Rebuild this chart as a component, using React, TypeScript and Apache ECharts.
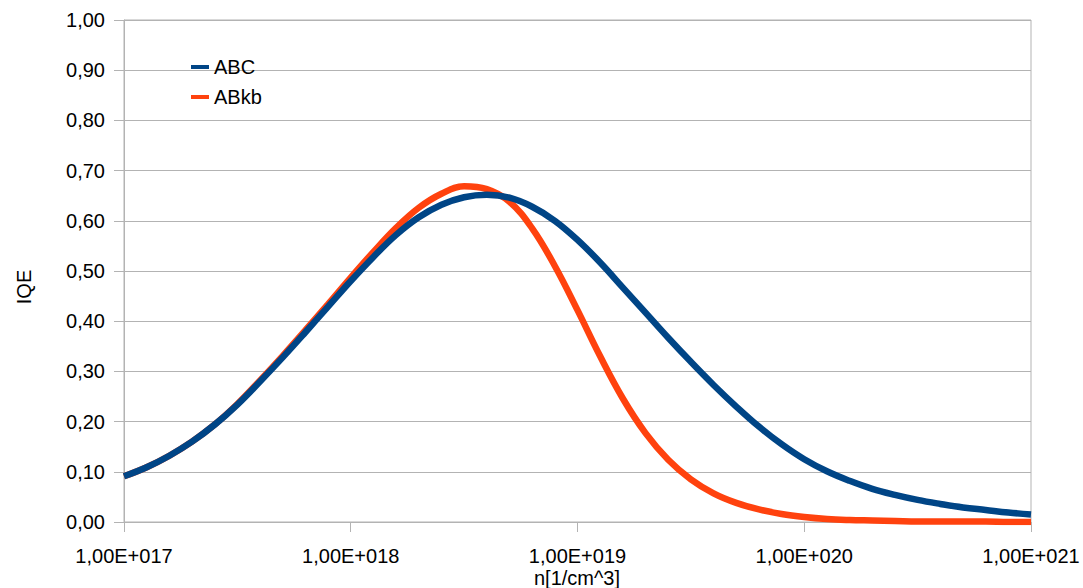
import React, { useEffect, useRef } from "react";
import * as echarts from "echarts";

// log10 of carrier density n [1/cm^3]
const exponents = [
  17.0, 17.1, 17.2, 17.3, 17.4, 17.5, 17.6, 17.7, 17.8, 17.9,
  18.0, 18.1, 18.2, 18.3, 18.4, 18.5, 18.6, 18.7, 18.8, 18.9,
  19.0, 19.1, 19.2, 19.3, 19.4, 19.5, 19.6, 19.7, 19.8, 19.9,
  20.0, 20.1, 20.2, 20.3, 20.4, 20.5, 20.6, 20.7, 20.8, 20.9,
  21.0,
];

const abcValues = [
  0.091, 0.109, 0.132, 0.160, 0.194, 0.234, 0.280, 0.328, 0.378, 0.429,
  0.480, 0.528, 0.572, 0.607, 0.632, 0.647, 0.652, 0.646, 0.628, 0.600,
  0.562, 0.517, 0.467, 0.417, 0.367, 0.319, 0.273, 0.230, 0.190, 0.155,
  0.125, 0.101, 0.082, 0.066, 0.054, 0.044, 0.036, 0.029, 0.024, 0.019,
  0.015,
];

const abkbValues = [
  0.091, 0.109, 0.132, 0.160, 0.194, 0.235, 0.282, 0.331, 0.382, 0.434,
  0.487, 0.538, 0.586, 0.626, 0.654, 0.669, 0.663, 0.638, 0.585, 0.510,
  0.422, 0.330, 0.246, 0.177, 0.124, 0.085, 0.057, 0.038, 0.025, 0.016,
  0.010, 0.006, 0.004, 0.003, 0.002, 0.001, 0.001, 0.001, 0.001, 0.000,
  0.000,
];

const seriesNames = ["ABC", "ABkb"];
const xTitle = "n[1/cm^3]";
const yTitle = "IQE";

const FONT = "'Liberation Sans', Arial, sans-serif";
const GRID_COLOR = "#b3b3b3";

function fmtX(v: number): string {
  const e = Math.round(Math.log10(v));
  const m = v / Math.pow(10, e);
  const es = String(Math.abs(e)).padStart(3, "0");
  return m.toFixed(2).replace(".", ",") + "E" + (e >= 0 ? "+" : "-") + es;
}

export default function App() {
  const ref = useRef<HTMLDivElement>(null);
  useEffect(() => {
    if (!ref.current) return;
    const chart = echarts.init(ref.current, undefined, { renderer: "svg" });
    const xs = exponents.map((e) => Math.pow(10, e));
    chart.setOption({
      animation: false,
      backgroundColor: "#ffffff",
      textStyle: { fontFamily: FONT },
      grid: {
        left: 124,
        right: 52,
        top: 20,
        bottom: 66,
        show: true,
        borderColor: GRID_COLOR,
        borderWidth: 1,
      },
      legend: {
        orient: "vertical",
        left: 191,
        top: 57,
        padding: 0,
        itemWidth: 18,
        itemHeight: 4,
        itemGap: 10,
        icon: "rect",
        data: seriesNames,
        textStyle: { fontSize: 20, color: "#000", fontFamily: FONT },
      },
      xAxis: {
        type: "log",
        logBase: 10,
        min: 1e17,
        max: 1e21,
        splitNumber: 4,
        axisLine: { show: true, lineStyle: { color: GRID_COLOR } },
        axisTick: { show: true, inside: false, length: 10, lineStyle: { color: GRID_COLOR } },
        minorTick: { show: false },
        splitLine: { show: false },
        axisLabel: {
          fontSize: 20,
          color: "#000",
          fontFamily: FONT,
          margin: 24,
          showMinLabel: true,
          showMaxLabel: true,
          formatter: (v: number) => fmtX(v),
        },
      },
      yAxis: {
        type: "value",
        min: 0,
        max: 1,
        interval: 0.1,
        axisLine: { show: true, lineStyle: { color: GRID_COLOR } },
        axisTick: { show: true, inside: false, length: 10, lineStyle: { color: GRID_COLOR } },
        splitLine: { show: true, lineStyle: { color: GRID_COLOR, width: 1 } },
        axisLabel: {
          fontSize: 20,
          color: "#000",
          fontFamily: FONT,
          margin: 19,
          formatter: (v: number) => v.toFixed(2).replace(".", ","),
        },
      },
      graphic: [
        {
          type: "text",
          x: 577,
          y: 578,
          style: {
            text: xTitle,
            fontSize: 20,
            fontFamily: FONT,
            fill: "#000",
            align: "center",
            verticalAlign: "middle",
          },
        },
        {
          type: "text",
          x: 24,
          y: 287,
          rotation: Math.PI / 2,
          style: {
            text: yTitle,
            fontSize: 20,
            fontFamily: FONT,
            fill: "#000",
            align: "center",
            verticalAlign: "middle",
          },
        },
      ],
      series: [
        {
          name: seriesNames[1],
          type: "line",
          z: 2,
          smooth: 0.4,
          showSymbol: false,
          symbol: "none",
          lineStyle: { width: 6.5, color: "#ff420e" },
          itemStyle: { color: "#ff420e" },
          data: xs.map((x, i) => [x, abkbValues[i]]),
        },
        {
          name: seriesNames[0],
          type: "line",
          z: 3,
          smooth: 0.4,
          showSymbol: false,
          symbol: "none",
          lineStyle: { width: 6.5, color: "#004586" },
          itemStyle: { color: "#004586" },
          data: xs.map((x, i) => [x, abcValues[i]]),
        },
      ],
    });
    return () => chart.dispose();
  }, []);
  return (
    <div
      ref={ref}
      style={{ position: "absolute", left: 0, top: 0, width: 1083, height: 588 }}
    />
  );
}
